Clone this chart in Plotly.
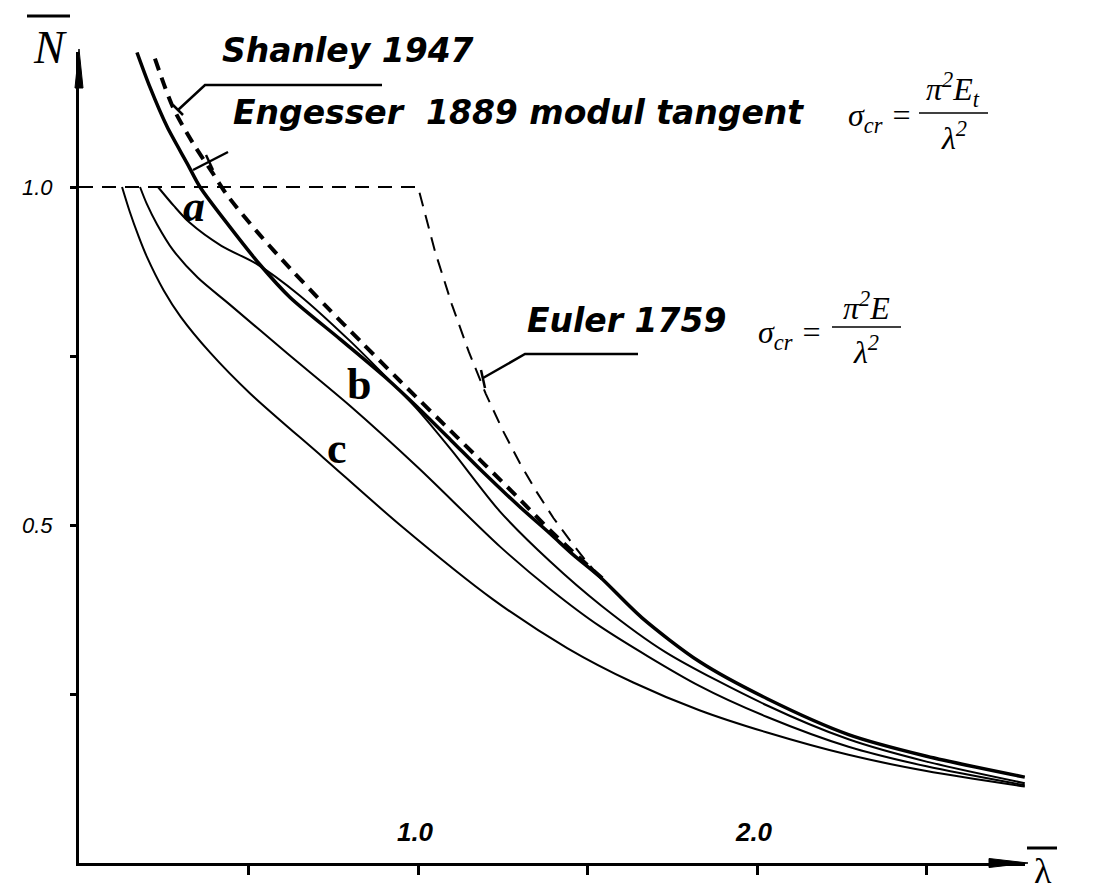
import plotly.graph_objects as go

# ---------------- data ----------------
# x: reduced slenderness (lambda bar), y: reduced load (N bar)
euler_lam = [0.0, 1.0, 1.05, 1.10, 1.15, 1.20, 1.25, 1.30, 1.35, 1.40, 1.45, 1.50, 1.55]
euler_N = [1.0, 1.0, 0.905, 0.826, 0.756, 0.694, 0.640, 0.592, 0.549, 0.510, 0.476, 0.444, 0.416]

engesser_lam = [0.171, 0.209, 0.26, 0.319, 0.357, 0.445, 0.534, 0.622, 0.77, 0.90, 0.997,
                1.10, 1.19, 1.30, 1.39, 1.46, 1.537, 1.66, 1.83, 2.03, 2.27, 2.50, 2.79]
engesser_N = [1.199, 1.148, 1.089, 1.035, 1.0, 0.941, 0.885, 0.837, 0.775, 0.72, 0.675,
              0.624, 0.579, 0.527, 0.487, 0.455, 0.423, 0.363, 0.298, 0.243, 0.19, 0.158, 0.127]

shanley_lam = [0.224, 0.277, 0.336, 0.395, 0.437, 0.525, 0.622, 0.73, 0.83, 0.947, 1.115, 1.29,
               1.39, 1.46, 1.55]
shanley_N = [1.19, 1.118, 1.065, 1.02, 0.988, 0.934, 0.880, 0.823, 0.772, 0.713, 0.630, 0.543,
             0.492, 0.459, 0.418]

a_lam = [0.233, 0.28, 0.327, 0.42, 0.525, 0.65, 0.80, 0.90, 1.0, 1.10, 1.24, 1.39, 1.54,
         1.73, 2.03, 2.27, 2.5, 2.79]
a_N = [1.0, 0.972, 0.947, 0.913, 0.886, 0.84, 0.772, 0.722, 0.670, 0.610, 0.521, 0.446, 0.381,
       0.312, 0.233, 0.183, 0.150, 0.118]

b_lam = [0.18, 0.20, 0.23, 0.277, 0.35, 0.445, 0.614, 0.80, 1.0, 1.242, 1.39, 1.537, 1.83,
         2.03, 2.27, 2.5, 2.79]
b_N = [1.0, 0.975, 0.945, 0.907, 0.866, 0.826, 0.754, 0.676, 0.585, 0.468, 0.405, 0.350, 0.262,
       0.216, 0.172, 0.143, 0.115]

c_lam = [0.127, 0.15, 0.175, 0.20, 0.25, 0.30, 0.387, 0.504, 0.72, 0.947, 1.221, 1.44, 1.635,
         1.83, 2.03, 2.27, 2.5, 2.79]
c_N = [1.0, 0.963, 0.928, 0.897, 0.847, 0.808, 0.755, 0.695, 0.600, 0.500, 0.390, 0.318, 0.267,
       0.226, 0.193, 0.160, 0.136, 0.113]

x_label_vals = [1.0, 2.0]
x_label_text = ["1.0", "2.0"]
x_minor_vals = [0.5, 1.5, 2.5]
y_label_vals = [0.5, 1.0]
y_label_text = ["0.5", "1.0"]
y_minor_vals = [0.25, 0.75]

# ---------------- layout geometry (pixels of the 1120x894 page) ----------------
BODY = 8                      # default page margin of the html body
FIG_W, FIG_H = 1120 - BODY, 894 - BODY
X0, Y0 = 79, 863              # page pixel of the origin
X_END, Y_END = 1025, 52       # page pixel of the axis arrow tips
ML, MT = X0 - BODY, Y_END - BODY
MR, MB = 1120 - X_END, 894 - Y0
PW, PH = X_END - X0, Y0 - Y_END
X_PER_UNIT, Y_PER_UNIT = 339.0, 676.0


def fx(px):  # page pixel -> paper x
    return (px - X0) / PW


def fy(py):  # page pixel -> paper y
    return (Y0 - py) / PH


fig = go.Figure()

thin = dict(color="black", width=2, shape="spline", smoothing=0.8)
fig.add_trace(go.Scatter(x=c_lam, y=c_N, mode="lines", line=thin, name="c"))
fig.add_trace(go.Scatter(x=b_lam, y=b_N, mode="lines", line=thin, name="b"))
fig.add_trace(go.Scatter(x=a_lam, y=a_N, mode="lines", line=thin, name="a"))
fig.add_trace(go.Scatter(x=euler_lam, y=euler_N, mode="lines",
                         line=dict(color="black", width=2, dash="14px,9px"), name="Euler 1759"))
fig.add_trace(go.Scatter(x=engesser_lam, y=engesser_N, mode="lines",
                         line=dict(color="black", width=3.5, shape="spline", smoothing=0.8),
                         name="Engesser 1889"))
fig.add_trace(go.Scatter(x=shanley_lam, y=shanley_N, mode="lines",
                         line=dict(color="black", width=4, dash="12px,8px", shape="spline",
                                   smoothing=0.8),
                         name="Shanley 1947"))

SANS = "DejaVu Sans"
SERIF = "Liberation Serif"
ann = []


def text(s, x, y, size, family, xanchor="left", yanchor="middle", weight="normal", style="normal"):
    ann.append(dict(text=s, x=fx(x), y=fy(y), xref="paper", yref="paper", showarrow=False,
                    xanchor=xanchor, yanchor=yanchor,
                    font=dict(size=size, family=family, color="black", weight=weight, style=style)))


text("Shanley 1947", 220, 50, 33, SANS, weight="bold", style="italic")
text("Engesser&nbsp; 1889 modul tangent", 231, 113, 33, SANS, weight="bold", style="italic")
text("Euler 1759", 525, 320, 33, SANS, weight="bold", style="italic")

# formulas
text("σ<sub>cr</sub> =", 846, 117, 32, SERIF, style="italic")
text("π<sup>2</sup>E<sub>t</sub>", 953, 90, 32, SERIF, xanchor="center", style="italic")
text("λ<sup>2</sup>", 954, 136, 32, SERIF, xanchor="center", style="italic")
text("σ<sub>cr</sub> =", 756, 334, 32, SERIF, style="italic")
text("π<sup>2</sup>E", 866, 306, 32, SERIF, xanchor="center", style="italic")
text("λ<sup>2</sup>", 866, 350, 32, SERIF, xanchor="center", style="italic")

# curve labels
text("a", 194, 206, 44, SERIF, xanchor="center", weight="bold", style="italic")
text("b", 359, 384, 44, SERIF, xanchor="center", weight="bold")
text("c", 337, 448, 44, SERIF, xanchor="center", weight="bold")

# axis titles
text("N", 50, 47, 46, SERIF, xanchor="center", style="italic")
text("λ", 1043, 893, 36, SERIF, xanchor="center", yanchor="bottom")

shapes = []


def seg(pts, width=2.5):
    path = "M " + " L ".join(f"{fx(px):.5f},{fy(py):.5f}" for px, py in pts)
    shapes.append(dict(type="path", path=path, xref="paper", yref="paper",
                       line=dict(color="black", width=width)))


def tip(pts):
    path = "M " + " L ".join(f"{fx(px):.5f},{fy(py):.5f}" for px, py in pts) + " Z"
    shapes.append(dict(type="path", path=path, xref="paper", yref="paper",
                       fillcolor="black", line=dict(color="black", width=1)))


# leader lines
seg([(382, 85), (205, 85), (178, 110)])
seg([(173, 105), (183, 115)])
seg([(228, 152), (193, 170)])
seg([(206, 155), (213, 170)])
seg([(638, 354), (525, 354), (483, 378)])
seg([(481, 370), (485, 388)])
# fraction bars
seg([(919, 113), (988, 113)], 1.5)
seg([(832, 327), (901, 327)], 1.5)
# overbars on axis titles
seg([(27, 16), (70, 16)], 3)
seg([(1027, 848), (1057, 848)], 3)
# axis arrow tips
tip([(X0, Y_END - 3), (X0 + 4, Y_END + 36), (X0 - 4, Y_END + 36)])
tip([(X_END + 3, Y0), (X_END - 36, Y0 - 4.5), (X_END - 36, Y0 + 4.5)])

fig.update_layout(
    width=FIG_W, height=FIG_H,
    margin=dict(l=ML, r=MR, t=MT, b=MB, pad=0),
    paper_bgcolor="white", plot_bgcolor="white",
    showlegend=False,
    annotations=ann, shapes=shapes,
    xaxis=dict(range=[0, PW / X_PER_UNIT], showgrid=False, zeroline=False,
               showline=True, linecolor="black", linewidth=3,
               ticks="outside", ticklen=9, tickwidth=3, tickcolor="black",
               tickmode="array", tickvals=x_label_vals, ticktext=x_label_text,
               minor=dict(tickmode="array", tickvals=x_minor_vals, ticks="outside",
                          ticklen=9, tickwidth=3, tickcolor="black", showgrid=False),
               ticklabelposition="inside", ticklabelstandoff=19, ticklabelshift=-3,
               tickfont=dict(family="Liberation Sans", size=26, color="black",
                             style="italic", weight="bold")),
    yaxis=dict(range=[0, PH / Y_PER_UNIT], showgrid=False, zeroline=False,
               showline=True, linecolor="black", linewidth=3,
               ticks="outside", ticklen=6, tickwidth=3, tickcolor="black",
               tickmode="array", tickvals=y_label_vals, ticktext=y_label_text,
               minor=dict(tickmode="array", tickvals=y_minor_vals, ticks="outside",
                          ticklen=6, tickwidth=3, tickcolor="black", showgrid=False),
               ticklabelstandoff=13,
               tickfont=dict(family="Liberation Sans", size=22, color="black", style="italic")),
)

fig.write_html("out.html")
